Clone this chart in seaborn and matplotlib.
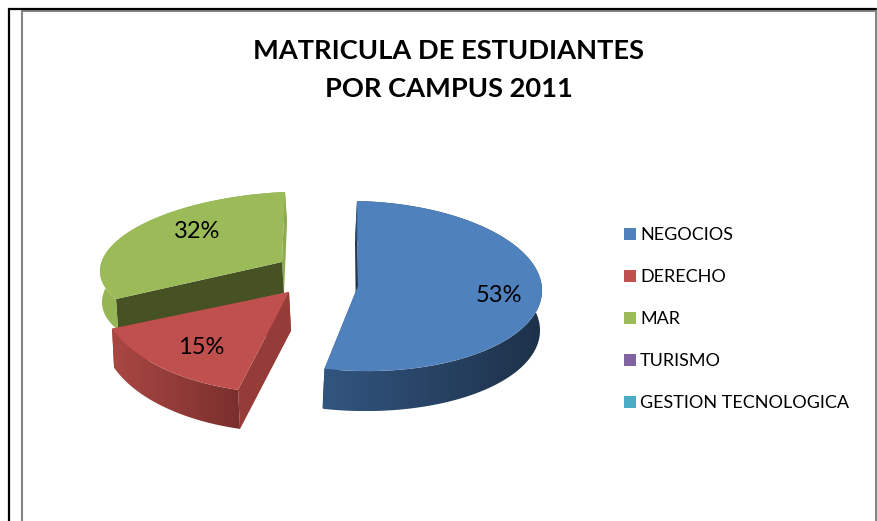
import numpy as np
import matplotlib
matplotlib.use('Agg')
import matplotlib.pyplot as plt
import seaborn as sns
from matplotlib.colors import LinearSegmentedColormap
from matplotlib.patches import Polygon
from matplotlib.transforms import Affine2D

# --- data ---
campus = ['NEGOCIOS', 'DERECHO', 'MAR', 'TURISMO', 'GESTION TECNOLOGICA']
matricula = [53, 15, 32, 0, 0]
colores = ['#4f81bd', '#c0504d', '#9bbb59', '#8064a2', '#4bacc6']
titulo = ['MATRICULA DE ESTUDIANTES', 'POR CAMPUS 2011']

# --- look of the fake 3D slices (pixel units, y pointing down) ---
# each slice: a, b, c, d, origin x, origin y of the unit pie -> picture mapping
mapa = [(184, -1, 4, -85, 358, 286),
        (188, 16, 7, -101, 289, 292),
        (182, 3, -8, -70, 282, 262)]
fondo = [(-2, 40), (2, 39), (2, 31)]
# cut face colour at the theta1 end and at the theta2 end of each slice
pared_corte = [('#1f3550', '#1f3550'), ('#953c39', '#953c39'), ('#8cab50', '#465223')]
pared_arco = [('#32557f', '#1d3149'), ('#aa4743', '#7a2f2d'), ('#97b756', '#8cab50')]
pos_etiqueta = [(499, 295), (201, 347), (197, 231)]

sns.set_theme(style='white')
plt.rcParams['font.family'] = ['Lato', 'DejaVu Sans']

fig = plt.figure(figsize=(8.78, 5.21), dpi=100)
ax = fig.add_axes([0, 0, 1, 1])

wedges, _ = ax.pie(matricula, colors=sns.color_palette(colores), startangle=90,
                   counterclock=False, wedgeprops={'linewidth': 0})


def poner_pared(pts, c1, c2, z):
    # wall with a left to right shade, clipped to the polygon
    cmap = LinearSegmentedColormap.from_list('pared', [c1, c2])
    x0, x1 = pts[:, 0].min(), pts[:, 0].max()
    y0, y1 = pts[:, 1].min(), pts[:, 1].max()
    im = ax.imshow(np.linspace(0, 1, 256).reshape(1, -1), cmap=cmap, aspect='auto',
                   extent=(x0, x1, y1, y0), zorder=z)
    clip = Polygon(pts, closed=True, transform=ax.transData)
    im.set_clip_path(clip)


for i, w in enumerate(wedges):
    if matricula[i] == 0:
        w.set_visible(False)
        continue
    a, b, c, d, ox, oy = mapa[i]
    m = np.array([[a, b], [c, d]])
    dx, dy = fondo[i]
    z = {2: 2, 1: 6, 0: 10}[i]

    t = np.radians(np.linspace(w.theta1, w.theta2, 200))
    arco = (m @ np.vstack([np.cos(t), np.sin(t)])).T + [ox, oy]

    # the two flat cut faces go under the round wall
    centro = np.array([ox, oy], dtype=float)
    for extremo, col in zip((arco[0], arco[-1]), pared_corte[i]):
        cara = np.array([centro, extremo, extremo + [dx, dy], centro + [dx, dy]])
        ax.add_patch(Polygon(cara, closed=True, fc=col, ec='none', zorder=z))

    muro = np.vstack([arco, (arco + [dx, dy])[::-1]])
    poner_pared(muro, pared_arco[i][0], pared_arco[i][1], z + 1)

    w.set_transform(Affine2D.from_values(a, c, b, d, ox, oy) + ax.transData)
    w.set_zorder(z + 2)

    ax.text(pos_etiqueta[i][0], pos_etiqueta[i][1], f'{matricula[i] / sum(matricula):.0%}',
            ha='center', va='center', fontsize=17, color='black', zorder=20)

# pie() changes the limits and aspect, so set the pixel frame afterwards
ax.set_aspect('auto')
ax.set_xlim(0, 878)
ax.set_ylim(521, 0)
ax.axis('off')

# page and chart borders
ax.plot([9, 9, 876], [521, 9, 9], color='black', lw=1.6, zorder=30, solid_joinstyle='miter')
ax.plot([22, 22, 876, 876], [521, 10.8, 10.8, 521], color='#868686', lw=1.5, zorder=29,
        solid_joinstyle='miter')

for linea, y in zip(titulo, [51, 89]):
    ax.text(449, y, linea, ha='center', va='center', fontsize=19.6, fontweight='bold',
            color='black')

ax.legend(wedges, campus, loc='upper left', bbox_to_anchor=(624 / 878, 1 - 227 / 521),
          frameon=False, fontsize=13, handlelength=0.66, handleheight=0.66, handletextpad=0.22,
          labelspacing=1.44, borderaxespad=0, borderpad=0, labelcolor='black')
leg = ax.get_legend()
for h, col in zip(leg.legend_handles, colores):
    h.set_visible(True)
    h.set_facecolor(col)

fig.savefig('out.png', dpi=100)
